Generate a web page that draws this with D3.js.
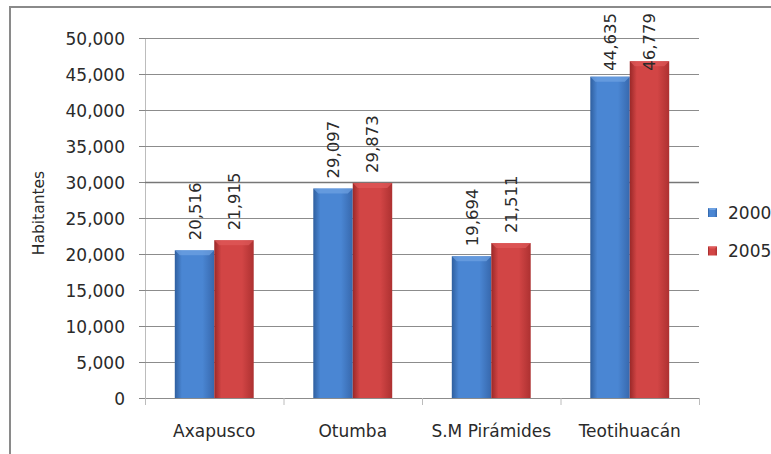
<!DOCTYPE html>
<html>
<head>
<meta charset="utf-8">
<script src="https://cdn.jsdelivr.net/npm/d3@7"></script>
<style>
  body { margin: 0; background: #fff; }
  svg, svg text { font-family: "DejaVu Sans", sans-serif; }
  svg { display: block; }
</style>
</head>
<body>
<div class="chart"></div>
<script>
var categories = ["Axapusco", "Otumba", "S.M Pirámides", "Teotihuacán"];
var series = ["2000", "2005"];
var values2000 = [20516, 29097, 19694, 44635];
var values2005 = [21915, 29873, 21511, 46779];
var yTicks = [0, 5000, 10000, 15000, 20000, 25000, 30000, 35000, 40000, 45000, 50000];

const width = 771, height = 454;
const margin = ({ top: 38, right: 72, bottom: 56, left: 145 });
const font = "\"DejaVu Sans\", sans-serif";
const textColor = "#2a2a2a";

var svg = d3.select(".chart").append("svg")
    .attr("width", width)
    .attr("height", height);

var defs = svg.append("defs");
var colors = {
    "2000": ["#2f5f9f", "#4a86d3", "#3768ad"],
    "2005": ["#9a2828", "#d24545", "#ad3131"]
};
series.forEach(s => {
    var g = defs.append("linearGradient").attr("id", "grad" + s)
        .attr("x1", 0).attr("x2", 1).attr("y1", 0).attr("y2", 0);
    g.append("stop").attr("offset", "0%").attr("stop-color", colors[s][0]);
    g.append("stop").attr("offset", "18%").attr("stop-color", colors[s][1]);
    g.append("stop").attr("offset", "70%").attr("stop-color", colors[s][1]);
    g.append("stop").attr("offset", "100%").attr("stop-color", colors[s][2]);
});

// outer frame (left + top only visible)
svg.append("path")
    .attr("d", "M10,454 V7 H771")
    .attr("fill", "none")
    .attr("stroke", "#8a8a8a")
    .attr("stroke-width", 2);

var x = d3.scaleBand()
    .domain(categories)
    .range([margin.left, width - margin.right])
    .paddingInner(0).paddingOuter(0);

var xs = d3.scaleBand()
    .domain(series)
    .range([0, x.bandwidth()])
    .paddingInner(0).paddingOuter(0.755);

var y = d3.scaleLinear()
    .domain([0, 50000])
    .range([height - margin.bottom, margin.top]);

// gridlines + y ticks
var yAxis = svg.append("g")
    .attr("transform", `translate(${margin.left},0)`)
    .call(d3.axisLeft(y).tickValues(yTicks).tickFormat(d3.format(",")).tickSize(6).tickPadding(14))
    .attr("font-family", font).attr("font-size", 17);
yAxis.select(".domain").attr("stroke", "#bcbcbc");
yAxis.selectAll(".tick line").attr("stroke", "#868686");
yAxis.selectAll(".tick text").attr("fill", textColor).attr("dy", "0.36em");

svg.append("g").selectAll("line")
    .data(yTicks.filter(d => d > 0))
    .join("line")
    .attr("x1", margin.left).attr("x2", width - margin.right)
    .attr("y1", d => y(d) + 0.5).attr("y2", d => y(d) + 0.5)
    .attr("stroke", d => d === 30000 ? "#777" : "#8c8c8c")
    .attr("stroke-width", d => d === 30000 ? 1.4 : 1);

// bars
var rows = categories.map((c, i) => ({ cat: c, vals: [
    { s: "2000", v: values2000[i] },
    { s: "2005", v: values2005[i] }
] }));

var groups = svg.append("g").selectAll("g")
    .data(rows)
    .join("g")
    .attr("transform", d => `translate(${x(d.cat)},0)`);

var bars = groups.selectAll("g.bar")
    .data(d => d.vals)
    .join("g").attr("class", "bar");

bars.append("rect")
    .attr("x", d => xs(d.s))
    .attr("y", d => y(d.v))
    .attr("width", xs.bandwidth())
    .attr("height", d => y(0) - y(d.v))
    .attr("fill", d => `url(#grad${d.s})`);

// top bevel highlight
bars.append("path")
    .attr("d", d => {
        var x0 = xs(d.s), w = xs.bandwidth(), t = y(d.v);
        return `M${x0},${t} H${x0 + w} L${x0 + w - 5},${t + 5} H${x0 + 5} Z`;
    })
    .attr("fill", d => d.s === "2000" ? "#6fa2e2" : "#e05a5a")
    .attr("opacity", 0.7);

// x axis
var xAxis = svg.append("g")
    .attr("transform", `translate(0,${y(0)})`)
    .call(d3.axisBottom(x).tickSize(0).tickPadding(27))
    .attr("font-family", font).attr("font-size", 17);
xAxis.select(".domain").attr("stroke", "#8c8c8c");
xAxis.selectAll(".tick text").attr("fill", textColor);

svg.append("g").selectAll("line")
    .data(categories.concat([null]))
    .join("line")
    .attr("x1", (d, i) => margin.left + i * x.step() + 0.5)
    .attr("x2", (d, i) => margin.left + i * x.step() + 0.5)
    .attr("y1", y(0)).attr("y2", y(0) + 7)
    .attr("stroke", "#bcbcbc");

// data labels (rotated)
bars.append("text")
    .text(d => d3.format(",")(d.v))
    .style("font-size", "16.5px")
    .attr("fill", textColor)
    .each(function(d) {
        var len = this.getComputedTextLength();
        var start = y(d.v) - 10;
        if (start - len < 13) start = 13 + len;
        var cx = xs(d.s) + xs.bandwidth() / 2;
        d3.select(this)
            .attr("transform", `translate(${cx + 6},${start}) rotate(-90)`);
    });

// y title
svg.append("text")
    .attr("transform", "translate(44,213) rotate(-90)")
    .attr("text-anchor", "middle")
    .style("font-size", "15.5px")
    .attr("fill", textColor)
    .text("Habitantes");

// legend
var legend = svg.append("g").selectAll("g")
    .data(series)
    .join("g")
    .attr("transform", (d, i) => `translate(708,${208 + i * 38.5})`);
legend.append("rect")
    .attr("width", 9).attr("height", 9)
    .attr("fill", d => `url(#grad${d})`);
legend.append("path")
    .attr("d", "M0,0 H9 L7,2 H2 Z")
    .attr("fill", d => d === "2000" ? "#6fa2e2" : "#e05a5a");
legend.append("text")
    .attr("x", 20).attr("y", 10.5)
    .style("font-size", "17px")
    .attr("fill", textColor)
    .text(d => d);
</script>
</body>
</html>
